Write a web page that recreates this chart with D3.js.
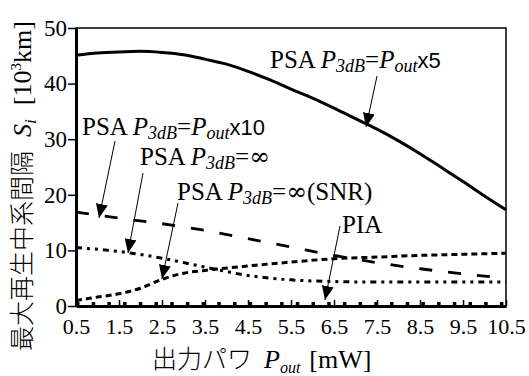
<!DOCTYPE html>
<html>
<head>
<meta charset="utf-8">
<script src="https://cdn.jsdelivr.net/npm/d3@7"></script>
<style>
  body { margin: 0; background: #fff; }
  svg { display: block; }
  text { font-family: "Liberation Serif", "Times New Roman", serif; fill: #000; }
  .jp { font-family: "Noto Sans CJK JP", sans-serif; font-weight: 300; }
</style>
</head>
<body>
<svg id="chart" width="529" height="376"></svg>
<script>
// values
const xTicks = [0.5, 1.5, 2.5, 3.5, 4.5, 5.5, 6.5, 7.5, 8.5, 9.5, 10.5];
const yTicks = [0, 10, 20, 30, 40, 50];

const x5X = [0.5, 1.0, 1.5, 2.0, 2.5, 3.0, 3.5, 4.0, 4.5, 5.0, 5.5, 6.0, 6.5, 7.0, 7.5, 8.0, 8.5, 9.0, 9.5, 10.0, 10.5];
const x5Y = [45.1, 45.5, 45.7, 45.8, 45.6, 45.2, 44.4, 43.5, 42.2, 40.7, 39.0, 37.4, 35.6, 33.7, 31.8, 29.7, 27.4, 24.9, 22.4, 19.8, 17.3];

const x10X = [0.5, 1.5, 2.5, 3.5, 4.5, 5.5, 6.5, 7.5, 8.5, 9.5, 10.2];
const x10Y = [16.9, 15.8, 14.8, 13.6, 12.1, 10.6, 9.1, 7.8, 6.7, 5.8, 5.2];

const infX = [0.5, 1.5, 2.5, 3.5, 4.5, 5.5, 6.5, 7.5, 8.5, 9.5, 10.5];
const infY = [10.5, 9.8, 8.6, 7.0, 5.5, 4.7, 4.4, 4.3, 4.3, 4.3, 4.3];

const snrX = [0.5, 1.0, 1.5, 2.0, 2.5, 3.0, 3.5, 4.5, 5.5, 6.5, 7.5, 8.5, 9.5, 10.5];
const snrY = [1.0, 1.6, 2.2, 3.2, 4.8, 5.9, 6.4, 7.2, 7.9, 8.5, 8.8, 9.1, 9.3, 9.5];

const piaX = [0.5, 10.5];
const piaY = [0.4, 0.4];

const svg = d3.select("#chart");
const plotL = 76, plotR = 506, plotT = 28, plotB = 306;
const serif = "'Liberation Serif', 'Times New Roman', serif";

const x = d3.scaleLinear().domain([0.5, 10.5]).range([plotL, plotR]);
const y = d3.scaleLinear().domain([0, 50]).range([plotB, plotT]);

// frame
svg.append("rect")
  .attr("x", plotL).attr("y", plotT)
  .attr("width", plotR - plotL).attr("height", plotB - plotT)
  .attr("fill", "none").attr("stroke", "#000").attr("stroke-width", 1.5);

// x axis, ticks point inward
const xAxis = svg.append("g")
  .attr("transform", `translate(0,${plotB})`)
  .call(d3.axisBottom(x).tickValues(xTicks).tickSizeInner(-6).tickSizeOuter(0).tickFormat(d3.format(".1f")));
xAxis.attr("font-family", serif);
xAxis.select(".domain").attr("stroke-width", 3);
xAxis.selectAll(".tick line").attr("stroke-width", 1.5);
xAxis.selectAll("text")
  .attr("y", 28).attr("dy", 0)
  .style("font-size", "22px")
  .style("font-family", serif);

// y axis
const yAxis = svg.append("g")
  .attr("transform", `translate(${plotL},0)`)
  .call(d3.axisLeft(y).tickValues(yTicks).tickSizeInner(8).tickSizeOuter(0));
yAxis.attr("font-family", serif);
yAxis.select(".domain").attr("stroke-width", 3);
yAxis.selectAll(".tick line").attr("stroke-width", 1.5);
yAxis.selectAll("text")
  .attr("x", -9)
  .style("font-size", "23px")
  .style("font-family", serif);

// series
const line = d3.line().x(d => x(d[0])).y(d => y(d[1])).curve(d3.curveMonotoneX);
const series = [
  { xs: x5X, ys: x5Y, dash: null, w: 3 },
  { xs: x10X, ys: x10Y, dash: "13,16", w: 2.8 },
  { xs: infX, ys: infY, dash: "6,5,3,5,3,5", w: 3 },
  { xs: snrX, ys: snrY, dash: "6,4", w: 3 },
  { xs: piaX, ys: piaY, dash: "3.5,12.2", w: 3.5 }
];
series.forEach(s => {
  svg.append("path")
    .datum(s.xs.map((v, i) => [v, s.ys[i]]))
    .attr("d", line)
    .attr("fill", "none")
    .attr("stroke", "#000")
    .attr("stroke-width", s.w)
    .attr("stroke-dasharray", s.dash);
});

// annotations
svg.append("defs").append("marker")
  .attr("id", "head")
  .attr("viewBox", "0 0 14 12")
  .attr("refX", 14).attr("refY", 6)
  .attr("markerWidth", 14).attr("markerHeight", 12)
  .attr("markerUnits", "userSpaceOnUse")
  .attr("orient", "auto")
  .append("path").attr("d", "M0,0L14,6L0,12Z").attr("fill", "#000");

const labels = [
  { x: 270, y: 68, tail: "x5", from: [377, 76], to: [366, 127] },
  { x: 82, y: 135, tail: "x10", from: [115, 141], to: [99, 218] },
  { x: 140, y: 165, tail: "∞", from: [143, 173], to: [128, 253] },
  { x: 177, y: 200, tail: "∞(SNR)", from: [178, 203], to: [162, 279] }
];

function subTspan(t, txt) {
  t.append("tspan").style("font-style", "italic").style("font-size", "18px").attr("dy", 4).text(txt);
}

labels.forEach(l => {
  const t = svg.append("text").attr("x", l.x).attr("y", l.y).style("font-size", "25px");
  t.append("tspan").text("PSA ");
  t.append("tspan").style("font-style", "italic").text("P");
  subTspan(t, "3dB");
  t.append("tspan").attr("dy", -4).text("=");
  if (l.tail === "x5" || l.tail === "x10") {
    t.append("tspan").style("font-style", "italic").text("P");
    subTspan(t, "out");
    t.append("tspan").attr("dy", -4).style("font-family", "'Liberation Sans', Arial, sans-serif").style("font-size", "22px").text(l.tail);
  } else {
    t.append("tspan").style("font-family", "'DejaVu Serif', serif").style("font-size", "25px").text("∞");
    if (l.tail.length > 1) t.append("tspan").text("(SNR)");
  }
  svg.append("line")
    .attr("x1", l.from[0]).attr("y1", l.from[1])
    .attr("x2", l.to[0]).attr("y2", l.to[1])
    .attr("stroke", "#000").attr("stroke-width", 1)
    .attr("marker-end", "url(#head)");
});

svg.append("text").attr("x", 342).attr("y", 233).style("font-size", "25px").text("PIA");
svg.append("line")
  .attr("x1", 340).attr("y1", 226).attr("x2", 325).attr("y2", 300)
  .attr("stroke", "#000").attr("stroke-width", 1)
  .attr("marker-end", "url(#head)");

// axis titles
const xt = svg.append("text").attr("x", 152).attr("y", 368).style("font-size", "26px");
xt.append("tspan").attr("class", "jp").style("font-size", "25px").text("出力パワ");
xt.append("tspan").attr("dx", 12).style("font-style", "italic").text("P");
xt.append("tspan").style("font-style", "italic").style("font-size", "16px").attr("dy", 5).text("out");
xt.append("tspan").attr("dx", 9).attr("dy", -5).text("[mW]");

const yt = svg.append("text")
  .attr("transform", "translate(31,351) rotate(-90)")
  .style("font-size", "26px");
yt.append("tspan").attr("class", "jp").style("font-size", "25px").text("最大再生中系間隔");
yt.append("tspan").attr("dx", 14).style("font-style", "italic").text("S");
yt.append("tspan").style("font-style", "italic").style("font-size", "17px").attr("dy", 5).text("i");
yt.append("tspan").attr("dx", 14).attr("dy", -5).text("[10");
yt.append("tspan").style("font-size", "15px").attr("dy", -10).text("3");
yt.append("tspan").attr("dy", 10).text("km]");
</script>
</body>
</html>
